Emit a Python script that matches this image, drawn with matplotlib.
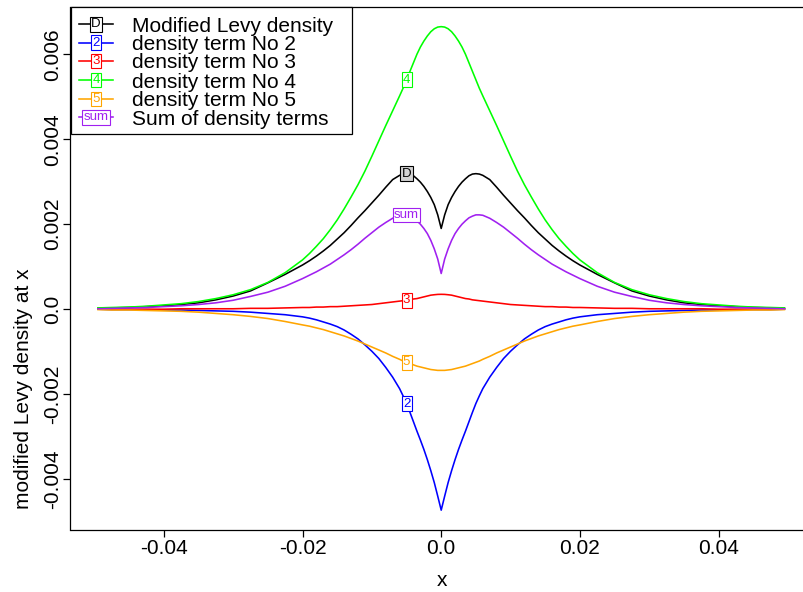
import matplotlib
matplotlib.use("Agg")
import matplotlib.pyplot as plt
from matplotlib.transforms import Affine2D
from matplotlib.patches import Rectangle
from matplotlib.lines import Line2D

plt.rcParams['font.family'] = ['Liberation Sans', 'DejaVu Sans']

# ---------------- data ----------------
x = [-0.0495, -0.0475, -0.045, -0.0425, -0.04, -0.0375, -0.035, -0.0325, -0.03, -0.0275,
     -0.025, -0.0225, -0.02, -0.019, -0.018, -0.017, -0.016, -0.015, -0.014, -0.013,
     -0.012, -0.011, -0.01, -0.009, -0.008, -0.007, -0.006, -0.0055, -0.005, -0.0045,
     -0.004, -0.0035, -0.003, -0.0025, -0.002, -0.0015, -0.001, -0.0005,
     0.0,
     0.0005, 0.001, 0.0015, 0.002, 0.0025, 0.003, 0.0035, 0.004, 0.0045, 0.005,
     0.0055, 0.006, 0.007, 0.008, 0.009, 0.01, 0.011, 0.012, 0.013, 0.014,
     0.015, 0.016, 0.017, 0.018, 0.019, 0.02, 0.0225, 0.025, 0.0275, 0.03,
     0.0325, 0.035, 0.0375, 0.04, 0.0425, 0.045, 0.0475, 0.0495]

levy = [0.00002, 0.00003, 0.00004, 0.00006, 0.00008, 0.00011, 0.00015, 0.00022, 0.00031, 0.00043,
        0.00062, 0.00082, 0.00104, 0.00114, 0.00125, 0.00137, 0.0015, 0.00165, 0.0018, 0.00197,
        0.00215, 0.00232, 0.0025, 0.00268, 0.00287, 0.00305, 0.00315, 0.00318, 0.00319, 0.00318,
        0.00314, 0.00307, 0.00299, 0.00289, 0.00277, 0.00263, 0.00246, 0.00222,
        0.0019,
        0.00222, 0.00246, 0.00263, 0.00277, 0.00289, 0.00299, 0.00307, 0.00314, 0.00318, 0.00319,
        0.00318, 0.00315, 0.00305, 0.00287, 0.00268, 0.0025, 0.00232, 0.00215, 0.00197, 0.0018,
        0.00165, 0.0015, 0.00137, 0.00125, 0.00114, 0.00104, 0.00082, 0.00062, 0.00043, 0.00031,
        0.00022, 0.00015, 0.00011, 0.00008, 0.00006, 0.00004, 0.00003, 0.00002]

term2 = [0.0, -0.00001, -0.00001, -0.00001, -0.00002, -0.00002, -0.00003, -0.00004, -0.00005, -0.00007,
         -0.0001, -0.00013, -0.00018, -0.00021, -0.00025, -0.0003, -0.00035, -0.00041, -0.00049, -0.00059,
         -0.0007, -0.00084, -0.00099, -0.00116, -0.00137, -0.0016, -0.00187, -0.00204, -0.00222, -0.00243,
         -0.00265, -0.00287, -0.00308, -0.0033, -0.00354, -0.0038, -0.00408, -0.0044,
         -0.00473,
         -0.0044, -0.00408, -0.0038, -0.00354, -0.0033, -0.00308, -0.00287, -0.00265, -0.00243, -0.00222,
         -0.00204, -0.00187, -0.0016, -0.00137, -0.00116, -0.00099, -0.00084, -0.0007, -0.00059, -0.00049,
         -0.00041, -0.00035, -0.0003, -0.00025, -0.00021, -0.00018, -0.00013, -0.0001, -0.00007, -0.00005,
         -0.00004, -0.00003, -0.00002, -0.00002, -0.00001, -0.00001, -0.00001, 0.0]

term3 = [0.0, 0.0, 0.0, 0.0, 0.0, 0.00001, 0.00001, 0.00001, 0.00001, 0.00002,
         0.00002, 0.00003, 0.00004, 0.00004, 0.00005, 0.00005, 0.00006, 0.00006, 0.00007, 0.00008,
         0.00009, 0.0001, 0.00011, 0.00013, 0.00015, 0.00017, 0.00019, 0.0002, 0.00021, 0.00022,
         0.00024, 0.00025, 0.00027, 0.00029, 0.00031, 0.00033, 0.00034, 0.000348,
         0.00035,
         0.000348, 0.00034, 0.00033, 0.00031, 0.00029, 0.00027, 0.00025, 0.00024, 0.00022, 0.00021,
         0.0002, 0.00019, 0.00017, 0.00015, 0.00013, 0.00011, 0.0001, 0.00009, 0.00008, 0.00007,
         0.00006, 0.00006, 0.00005, 0.00005, 0.00004, 0.00004, 0.00003, 0.00002, 0.00002, 0.00001,
         0.00001, 0.00001, 0.00001, 0.0, 0.0, 0.0, 0.0, 0.0]

term4 = [0.00003, 0.00004, 0.00005, 0.00007, 0.0001, 0.00013, 0.00018, 0.00025, 0.00034, 0.00046,
         0.00063, 0.00086, 0.00116, 0.00131, 0.00148, 0.00166, 0.00187, 0.0021, 0.00236, 0.00264,
         0.00293, 0.00325, 0.0036, 0.00396, 0.00432, 0.00467, 0.00502, 0.0052, 0.0054, 0.0056,
         0.0058, 0.006, 0.00617, 0.00631, 0.00643, 0.00653, 0.0066, 0.00664,
         0.00665,
         0.00664, 0.0066, 0.00653, 0.00643, 0.00631, 0.00617, 0.006, 0.0058, 0.0056, 0.0054,
         0.0052, 0.00502, 0.00467, 0.00432, 0.00396, 0.0036, 0.00325, 0.00293, 0.00264, 0.00236,
         0.0021, 0.00187, 0.00166, 0.00148, 0.00131, 0.00116, 0.00086, 0.00063, 0.00046, 0.00034,
         0.00025, 0.00018, 0.00013, 0.0001, 0.00007, 0.00005, 0.00004, 0.00003]

term5 = [-0.00001, -0.00002, -0.00002, -0.00003, -0.00004, -0.00005, -0.00007, -0.0001, -0.00013, -0.00017,
         -0.00022, -0.00029, -0.00037, -0.0004, -0.00044, -0.00048, -0.00053, -0.00058, -0.00063, -0.00069,
         -0.00075, -0.00082, -0.00089, -0.00096, -0.00103, -0.00111, -0.00118, -0.00122, -0.00125, -0.00128,
         -0.00131, -0.00134, -0.00136, -0.00138, -0.0014, -0.00142, -0.00143, -0.00144,
         -0.00144,
         -0.00144, -0.00143, -0.00142, -0.0014, -0.00138, -0.00136, -0.00134, -0.00131, -0.00128, -0.00125,
         -0.00122, -0.00118, -0.00111, -0.00103, -0.00096, -0.00089, -0.00082, -0.00075, -0.00069, -0.00063,
         -0.00058, -0.00053, -0.00048, -0.00044, -0.0004, -0.00037, -0.00029, -0.00022, -0.00017, -0.00013,
         -0.0001, -0.00007, -0.00005, -0.00004, -0.00003, -0.00002, -0.00002, -0.00001]

total = [0.00001, 0.00002, 0.00003, 0.00004, 0.00006, 0.00008, 0.00011, 0.00015, 0.00021, 0.0003,
         0.0004, 0.00054, 0.00072, 0.0008, 0.00088, 0.00097, 0.00106, 0.00117, 0.00128, 0.0014,
         0.00153, 0.00167, 0.0018, 0.00193, 0.00204, 0.00214, 0.00221, 0.00222, 0.00222, 0.00219,
         0.00215, 0.00208, 0.002, 0.0019, 0.00178, 0.00162, 0.00142, 0.00118,
         0.00084,
         0.00118, 0.00142, 0.00162, 0.00178, 0.0019, 0.002, 0.00208, 0.00215, 0.00219, 0.00222,
         0.00222, 0.00221, 0.00214, 0.00204, 0.00193, 0.0018, 0.00167, 0.00153, 0.0014, 0.00128,
         0.00117, 0.00106, 0.00097, 0.00088, 0.0008, 0.00072, 0.00054, 0.0004, 0.0003, 0.00021,
         0.00015, 0.00011, 0.00008, 0.00006, 0.00004, 0.00003, 0.00002, 0.00001]

series = [levy, term2, term3, term4, term5, total]
colors = ['black', '#0000FF', '#FF0000', '#00FF00', '#FFA500', '#A020F0']
marks = ['D', '2', '3', '4', '5', 'sum']
legend_labels = ['Modified Levy density', 'density term No 2', 'density term No 3',
                 'density term No 4', 'density term No 5', 'Sum of density terms']

xticks = [-0.04, -0.02, 0.0, 0.02, 0.04]
xticklabels = ['-0.04', '-0.02', '0.0', '0.02', '0.04']
yticks = [-0.004, -0.002, 0.0, 0.002, 0.004, 0.006]
yticklabels = ['-0.004', '-0.002', '0.0', '0.002', '0.004', '0.006']
label_x = -0.005

# ---------------- figure ----------------
W, H = 804, 592
fig = plt.figure(figsize=(W / 100, H / 100), dpi=100)
px = Affine2D().scale(1 / W, -1 / H).translate(0, 1) + fig.transFigure

ax_l, ax_r, ax_t, ax_b = 70.5, 811.9, 7.3, 529.5
ax = fig.add_axes([ax_l / W, 1 - ax_b / H, (ax_r - ax_l) / W, (ax_b - ax_t) / H])

for s, c in zip(series, colors):
    ax.plot(x, s, color=c, lw=1.15, solid_joinstyle='round')

# R-style axis range (4% padding)
xmin, xmax = min(x), max(x)
allv = [v for s in series for v in s]
ymin, ymax = min(allv), max(allv)
dx, dy = (xmax - xmin) * 0.04, (ymax - ymin) * 0.04
ax.set_xlim(xmin - dx, xmax + dx)
ax.set_ylim(ymin - dy, ymax + dy)

# curve labels at x = -0.005
i_lab = x.index(label_x)
for s, c, m in zip(series, colors, marks):
    fc = '#d3d3d3' if m == 'D' else 'white'
    ax.text(label_x, s[i_lab], m, ha='center', va='center', fontsize=9.5, color=c,
            zorder=5,
            bbox=dict(boxstyle='square,pad=0.1', fc=fc, ec=c, lw=0.8))

ax.set_xticks(xticks)
ax.set_xticklabels(xticklabels)
ax.set_yticks(yticks)
ax.set_yticklabels(yticklabels, rotation=90, va='center')
ax.tick_params(axis='both', labelsize=15, length=5.2, width=0.9, direction='out', color='black')
ax.tick_params(axis='x', pad=2.0)
ax.tick_params(axis='y', pad=0.5)
for sp in ['left', 'bottom', 'top', 'right']:
    ax.spines[sp].set_linewidth(0.9)

# axis titles
fig.text(441.7, 586, 'x', transform=px, ha='center', va='baseline', fontsize=15)
fig.text(24, (ax_t + ax_b) / 2, 'modified Levy density at x', transform=px, rotation=90,
         ha='right', va='center', fontsize=15, rotation_mode='anchor')

# legend (drawn like R's legend("topleft"))
rect = Rectangle((71.5, 7.3), 352.3 - 71.5, 134.3 - 7.3, transform=px, fc='white',
                 ec='black', lw=0.9, zorder=10)
fig.add_artist(rect)
rows = [24.3, 42.7, 61.0, 80.0, 99.0, 117.3]
for yy, c, m, lab in zip(rows, colors, marks, legend_labels):
    fig.add_artist(Line2D([79.3, 112.7], [yy, yy], transform=px, color=c, lw=1.15, zorder=11))
    fig.text(96, yy, m, transform=px, ha='center', va='center', fontsize=9.5, color=c, zorder=12,
             bbox=dict(boxstyle='square,pad=0.1', fc='white', ec=c, lw=0.8))
    fig.text(131.7, yy + 7.5, lab, transform=px, ha='left', va='baseline', fontsize=15, zorder=12)

fig.savefig('out.png', dpi=100)
